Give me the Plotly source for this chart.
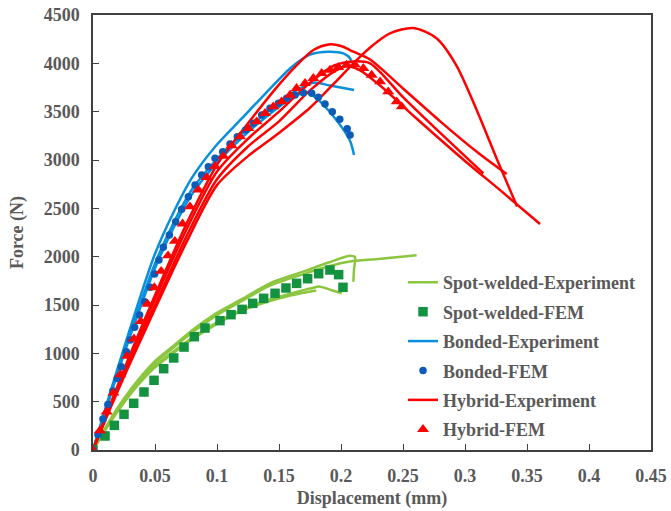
import plotly.graph_objects as go

# ---------------- data ----------------
# Spot-welded experiment (4 specimens)
g1_x = [0, 0.01, 0.02, 0.03, 0.04, 0.05, 0.065, 0.08, 0.1, 0.12, 0.1427, 0.1696, 0.19, 0.2073, 0.2113, 0.2105, 0.21]
g1_y = [0, 230, 440, 620, 780, 920, 1080, 1240, 1420, 1560, 1724, 1845, 1940, 2010, 1995, 1870, 1741]
g2_x = [0, 0.01, 0.02, 0.03, 0.04, 0.05, 0.065, 0.08, 0.1, 0.12, 0.1427, 0.17, 0.19, 0.2073, 0.23, 0.261]
g2_y = [0, 220, 425, 605, 765, 900, 1060, 1215, 1395, 1540, 1700, 1820, 1900, 1950, 1975, 2015]
g3_x = [0, 0.01, 0.02, 0.03, 0.04, 0.05, 0.065, 0.08, 0.1, 0.12, 0.14, 0.16, 0.175, 0.183, 0.192, 0.2005]
g3_y = [0, 215, 410, 585, 740, 870, 1020, 1160, 1320, 1450, 1550, 1620, 1670, 1690, 1655, 1621]
g4_x = [0, 0.01, 0.02, 0.03, 0.04, 0.05, 0.065, 0.08, 0.1, 0.12, 0.14, 0.16, 0.18]
g4_y = [0, 210, 400, 575, 725, 855, 1005, 1145, 1305, 1440, 1530, 1600, 1650]

# Spot-welded FEM
sw_fem_x = [0, 0.0097, 0.0172, 0.025, 0.0328, 0.0411, 0.0492, 0.057, 0.0651, 0.0734, 0.0817, 0.0903,
            0.1024, 0.1113, 0.1202, 0.1288, 0.1376, 0.1468, 0.1556, 0.1642, 0.1731, 0.182, 0.1911,
            0.1981, 0.2016]
sw_fem_y = [0, 145, 255, 369, 483, 600, 721, 841, 952, 1065, 1172, 1262, 1338, 1400, 1455, 1517,
            1569, 1621, 1676, 1724, 1772, 1824, 1862, 1814, 1683]

# Bonded experiment (3 specimens)
b1_x = [0, 0.01, 0.02, 0.03, 0.04, 0.05, 0.065, 0.08, 0.1, 0.12, 0.14, 0.16, 0.175, 0.19, 0.2019, 0.2073, 0.2086]
b1_y = [0, 430, 850, 1260, 1660, 2030, 2460, 2820, 3160, 3430, 3700, 3960, 4090, 4120, 4103, 4052, 4000]
b2_x = [0, 0.01, 0.02, 0.03, 0.04, 0.05, 0.065, 0.08, 0.1, 0.12, 0.14, 0.16, 0.1777, 0.191, 0.2105]
b2_y = [0, 410, 820, 1210, 1580, 1930, 2350, 2700, 3010, 3270, 3490, 3690, 3800, 3770, 3724]
b3_x = [0, 0.01, 0.02, 0.03, 0.04, 0.05, 0.065, 0.08, 0.1, 0.12, 0.14, 0.16, 0.172, 0.18, 0.194, 0.207, 0.2105]
b3_y = [0, 400, 800, 1180, 1540, 1880, 2300, 2650, 2970, 3230, 3450, 3640, 3700, 3640, 3450, 3207, 3052]

# Bonded FEM
bo_fem_x = [0, 0.004, 0.008, 0.012, 0.016, 0.0195, 0.0228, 0.0269, 0.0301, 0.0336, 0.0376, 0.0417,
            0.0462, 0.0497, 0.0532, 0.0567, 0.0616, 0.0667, 0.0715, 0.0769, 0.0823, 0.0876, 0.093,
            0.0984, 0.1046, 0.1105, 0.1164, 0.1231, 0.1293, 0.136, 0.1427, 0.1495, 0.1562, 0.1629,
            0.1696, 0.1764, 0.1817, 0.1871, 0.193, 0.199, 0.205, 0.2073]
bo_fem_y = [0, 160, 320, 470, 610, 740, 862, 1017, 1138, 1269, 1397, 1534, 1683, 1820, 1965, 2097,
            2224, 2362, 2490, 2620, 2741, 2845, 2931, 3017, 3086, 3165, 3241, 3310, 3380, 3466, 3535,
            3586, 3638, 3672, 3696, 3690, 3648, 3579, 3500, 3421, 3324, 3259]

# Hybrid experiment (4 specimens)
r1_x = [0, 0.01, 0.02, 0.03, 0.04, 0.05, 0.075, 0.1, 0.125, 0.15, 0.175, 0.195, 0.2126,
        0.225, 0.2395, 0.2583, 0.277, 0.293, 0.31, 0.326, 0.342]
r1_y = [0, 310, 610, 900, 1180, 1460, 2140, 2740, 3040, 3280, 3540, 3800, 4034, 4180,
        4310, 4365, 4260, 3980, 3500, 3000, 2520]
r2_x = [0, 0.01, 0.02, 0.03, 0.04, 0.05, 0.075, 0.1, 0.125, 0.15, 0.165, 0.178, 0.19, 0.2, 0.21,
        0.2234, 0.25, 0.28, 0.31, 0.3336]
r2_y = [0, 340, 670, 990, 1300, 1600, 2330, 2950, 3380, 3780, 3990, 4140, 4195, 4180, 4120,
        4040, 3740, 3400, 3080, 2855]
r3_x = [0, 0.01, 0.02, 0.03, 0.04, 0.05, 0.075, 0.1, 0.125, 0.15, 0.175, 0.195, 0.21,
        0.2234, 0.25, 0.28, 0.3148]
r3_y = [0, 330, 650, 960, 1265, 1560, 2270, 2880, 3220, 3500, 3800, 3980, 4020, 4000,
        3650, 3280, 2862]
r4_x = [0, 0.01, 0.02, 0.03, 0.04, 0.05, 0.075, 0.1, 0.125, 0.15, 0.175, 0.195, 0.205, 0.215,
        0.2315, 0.26, 0.3, 0.33, 0.3605]
r4_y = [0, 320, 630, 930, 1220, 1500, 2200, 2800, 3140, 3400, 3720, 3920, 3970, 3930, 3770,
        3440, 2990, 2670, 2338]

# Hybrid FEM
hy_fem_x = [0, 0.0055, 0.011, 0.0165, 0.022, 0.0275, 0.033, 0.0385, 0.044, 0.0495, 0.055, 0.0605,
            0.066, 0.0722, 0.0782, 0.0849, 0.0917, 0.0984, 0.1051, 0.1118, 0.1185, 0.1253, 0.132,
            0.1387, 0.1454, 0.1521, 0.1589, 0.1642, 0.171, 0.1777, 0.1844, 0.1911, 0.1978, 0.2046,
            0.2113, 0.218, 0.2247, 0.2315, 0.2381, 0.2449, 0.249]
hy_fem_y = [0, 200, 395, 590, 780, 970, 1150, 1330, 1510, 1680, 1850, 2010, 2160, 2340, 2517, 2690,
            2820, 2935, 3040, 3150, 3241, 3328, 3396, 3483, 3551, 3603, 3672, 3741, 3793, 3845, 3897,
            3931, 3959, 3983, 3983, 3948, 3879, 3810, 3707, 3603, 3551]

x_ticks = [0, 0.05, 0.1, 0.15, 0.2, 0.25, 0.3, 0.35, 0.4, 0.45]
x_tick_labels = ["0", "0.05", "0.1", "0.15", "0.2", "0.25", "0.3", "0.35", "0.4", "0.45"]
y_ticks = [0, 500, 1000, 1500, 2000, 2500, 3000, 3500, 4000, 4500]

# ---------------- style ----------------
GREEN_L = "#8CC63F"
GREEN_M = "#13923F"
BLUE_L = "#0A8FDC"
BLUE_M = "#0B5CB8"
RED = "#FF0000"
TXT = "#595959"
FONT = "Liberation Serif, Times New Roman, serif"
FS = 18

fig = go.Figure()


def exp_line(x, y, color, name, group, rank, show):
    fig.add_trace(go.Scatter(
        x=x, y=y, mode="lines", name=name, legendgroup=group, legendrank=rank,
        showlegend=show, line=dict(color=color, width=2.5, shape="spline", smoothing=0.8),
        hoverinfo="skip"))


for i, (x, y) in enumerate([(g1_x, g1_y), (g2_x, g2_y), (g3_x, g3_y), (g4_x, g4_y)]):
    exp_line(x, y, GREEN_L, "Spot-welded-Experiment", "g1", 1, i == 0)
for i, (x, y) in enumerate([(b1_x, b1_y), (b2_x, b2_y), (b3_x, b3_y)]):
    exp_line(x, y, BLUE_L, "Bonded-Experiment", "g3", 3, i == 0)
for i, (x, y) in enumerate([(r1_x, r1_y), (r2_x, r2_y), (r3_x, r3_y), (r4_x, r4_y)]):
    exp_line(x, y, RED, "Hybrid-Experiment", "g5", 5, i == 0)

fig.add_trace(go.Scatter(x=sw_fem_x, y=sw_fem_y, mode="markers", name="Spot-welded-FEM",
                         legendgroup="g2", legendrank=2,
                         marker=dict(symbol="square", size=9.5, color=GREEN_M)))
fig.add_trace(go.Scatter(x=bo_fem_x, y=bo_fem_y, mode="markers", name="Bonded-FEM",
                         legendgroup="g4", legendrank=4,
                         marker=dict(symbol="circle", size=7.5, color=BLUE_M)))
fig.add_trace(go.Scatter(x=hy_fem_x, y=hy_fem_y, mode="markers", name="Hybrid-FEM",
                         legendgroup="g6", legendrank=6,
                         marker=dict(symbol="triangle-up", size=10.5, color=RED)))

axis_common = dict(
    showline=True, linecolor="#404040", linewidth=1.5, mirror=True,
    ticks="inside", ticklen=6, tickwidth=1.2, tickcolor="#404040",
    showgrid=False, zeroline=False, automargin=False,
    tickfont=dict(family=FONT, size=FS, color=TXT, weight="bold"),
)

fig.update_xaxes(range=[0, 0.45], tickvals=x_ticks, ticktext=x_tick_labels,
                 title=dict(text="Displacement (mm)", standoff=6,
                            font=dict(family=FONT, size=FS, color=TXT, weight="bold")),
                 ticklabelstandoff=9, **axis_common)
fig.update_yaxes(range=[0, 4500], tickvals=y_ticks,
                 title=dict(text="Force (N)", standoff=15,
                            font=dict(family=FONT, size=FS, color=TXT, weight="bold")),
                 ticklabelstandoff=8, **axis_common)

fig.update_layout(
    width=671, height=511,
    margin=dict(l=93, r=20, t=15, b=61),
    paper_bgcolor="white", plot_bgcolor="white",
    font=dict(family=FONT, size=FS, color=TXT, weight="bold"),
    legend=dict(x=0.5556, y=0.4274, xanchor="left", yanchor="top",
                traceorder="grouped", tracegroupgap=3,
                bgcolor="rgba(0,0,0,0)", borderwidth=0,
                font=dict(family=FONT, size=FS, color=TXT, weight="bold"),
                itemwidth=30),
    showlegend=True,
)

fig.write_html(
    "out.html",
    config={"displayModeBar": False},
    post_script="document.body.style.margin='0px';document.body.style.overflow='hidden';",
)
